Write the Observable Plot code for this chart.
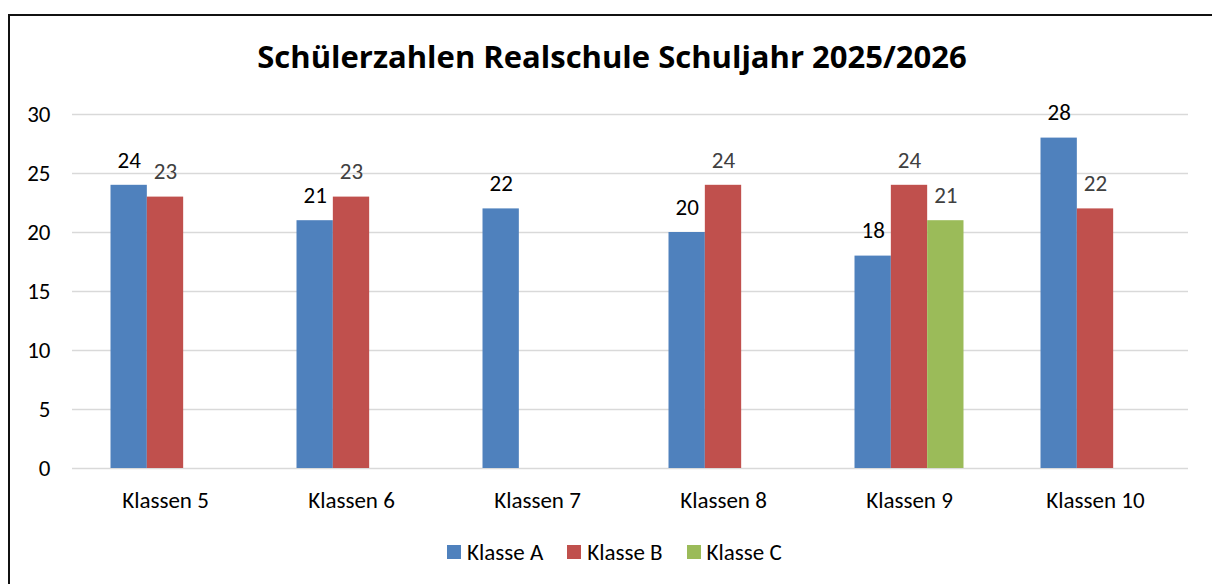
<!DOCTYPE html>
<html>
<head>
<meta charset="utf-8">
<script src="https://cdn.jsdelivr.net/npm/d3@7"></script>
<script src="https://cdn.jsdelivr.net/npm/@observablehq/plot@0.6"></script>
<style>
  html, body { margin: 0; padding: 0; background: #fff; overflow: hidden; width: 1212px; height: 584px; }
  body { position: relative; font-family: Carlito, Lato, sans-serif; }
  #frame { position: absolute; left: 8px; top: 14px; width: 1230px; height: 600px; border: 2px solid #111; box-sizing: border-box; }
  #title { position: absolute; left: 0; top: 36px; width: 1224px; text-align: center; font-family: "Open Sans", Lato, sans-serif; font-weight: bold; font-size: 31px; color: #000; line-height: 40px; white-space: nowrap; }
  #chart { position: absolute; left: 0; top: 90px; }
  #legend { position: absolute; left: 447px; top: 538px; height: 28px; display: flex; align-items: center; font-size: 23px; color: #000; }
  .item { display: flex; align-items: center; margin-right: 24px; }
  .sw { width: 14px; height: 14px; margin-right: 6px; }
</style>
</head>
<body>
<div id="frame"></div>
<div id="title">Schülerzahlen Realschule Schuljahr 2025/2026</div>
<div id="chart"></div>
<div id="legend"></div>
<script>
const categories = ["Klassen 5", "Klassen 6", "Klassen 7", "Klassen 8", "Klassen 9", "Klassen 10"];
const seriesNames = ["Klasse A", "Klasse B", "Klasse C"];
const klasseA = [24, 21, 22, 20, 18, 28];
const klasseB = [23, 23, null, 24, 24, 22];
const klasseC = [null, null, null, null, 21, null];
const colors = ["#4F81BD", "#C0504D", "#9BBB59"];
const yTicks = [0, 5, 10, 15, 20, 25, 30];

const seriesValues = [klasseA, klasseB, klasseC];
const data = [];
categories.forEach((c, i) => {
  seriesNames.forEach((s, j) => {
    const v = seriesValues[j][i];
    if (v != null) data.push({cat: c, series: s, value: v});
  });
});

const chart = Plot.plot({
  width: 1212,
  height: 440,
  marginLeft: 72,
  marginRight: 24,
  marginTop: 24,
  marginBottom: 62,
  style: {fontFamily: "Carlito, Lato, sans-serif", fontSize: "23px", background: "transparent"},
  fx: {domain: categories, padding: 0, label: null},
  x: {domain: seriesNames, paddingInner: 0, paddingOuter: 1.06, axis: null, round: false},
  y: {domain: [0, 30], label: null},
  color: {domain: seriesNames, range: colors},
  marks: [
    Plot.gridY(yTicks, {stroke: "#d9d9d9", strokeOpacity: 1, strokeWidth: 1.5}),
    Plot.axisY(yTicks, {tickSize: 0, tickPadding: 22, fontSize: 23, fill: "#000", label: null}),
    Plot.axisFx({anchor: "bottom", tickSize: 0, tickPadding: 23, fontSize: 23, fill: "#000", label: null}),
    Plot.barY(data, {fx: "cat", x: "series", y: "value", fill: "series", insetLeft: 0, insetRight: 0}),
    Plot.text(data.filter(d => d.series === "Klasse A"), {fx: "cat", x: "series", y: "value", text: d => String(d.value), dy: -25, fill: "#000", fontSize: 23}),
    Plot.text(data.filter(d => d.series !== "Klasse A"), {fx: "cat", x: "series", y: "value", text: d => String(d.value), dy: -25, fill: "#404040", fontSize: 23})
  ]
});
document.getElementById("chart").appendChild(chart);

const legend = document.getElementById("legend");
seriesNames.forEach((s, i) => {
  const item = document.createElement("div");
  item.className = "item";
  const sw = document.createElement("div");
  sw.className = "sw";
  sw.style.background = colors[i];
  const t = document.createElement("span");
  t.textContent = s;
  item.appendChild(sw);
  item.appendChild(t);
  legend.appendChild(item);
});
</script>
</body>
</html>
